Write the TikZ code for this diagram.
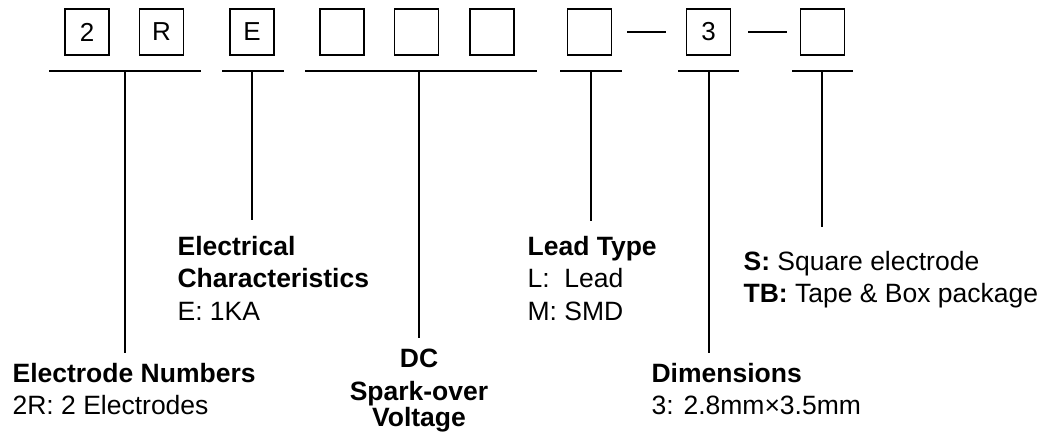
\documentclass[tikz,border=0pt]{standalone}
\usepackage{fontspec}
\setmainfont{Liberation Sans}
\begin{document}
\begin{tikzpicture}[x=1pt,y=-1pt,line width=1.2pt,
  digit/.style={draw,minimum width=44pt,minimum height=46pt,inner sep=0pt,font=\fontsize{26}{30}\selectfont},
  lbl/.style={inner sep=0pt,font=\fontsize{26.5}{30}\selectfont},
  hd/.style={lbl,font=\fontsize{26.5}{30}\selectfont\bfseries}]
\useasboundingbox (0,0) rectangle (1051,437);
% code boxes
\node[digit] (b1) at (87,32) {2};
\node[digit] (b2) at (161.5,32) {R};
\node[digit] (b3) at (252,32) {E};
\node[digit] (b4) at (342,32) {};
\node[digit] (b5) at (416.5,32) {};
\node[digit] (b6) at (492,32) {};
\node[digit] (b7) at (589.5,32) {};
\node[digit] (b8) at (708.5,32) {3};
\node[digit] (b9) at (822.5,32) {};
\draw ([xshift=15pt]b7.east) -- ([xshift=-20pt]b8.west);
\draw ([xshift=17pt]b8.east) -- ([xshift=-13pt]b9.west);
% bars
\draw (49,71) -- (201,71);
\draw (222,71) -- (284,71);
\draw (305,71) -- (537,71);
\draw (560,71) -- (622,71);
\draw (678,71) -- (739,71);
\draw (792,71) -- (853,71);
% stem ends
\coordinate (s1t) at (125,71); \coordinate (s1b) at (125,353);
\coordinate (s2t) at (252,71); \coordinate (s2b) at (252,220);
\coordinate (s3t) at (419,71); \coordinate (s3b) at (419,338);
\coordinate (s4t) at (591,71); \coordinate (s4b) at (591,221);
\coordinate (s5t) at (709,71); \coordinate (s5b) at (709,353);
\coordinate (s6t) at (822,71); \coordinate (s6b) at (822,227);
\draw (s1t) -- (s1b);
\draw (s2t) -- (s2b);
\draw (s3t) -- (s3b);
\draw (s4t) -- (s4b);
\draw (s5t) -- (s5b);
\draw (s6t) -- (s6b);
% labels
\node[hd,anchor=base west] (en1) at (12,382) {Electrode Numbers};
\node[lbl,anchor=base west] (en2) at (12,414) {2R: 2 Electrodes};
\node[hd,anchor=base west] (ec1) at (177,255) {Electrical};
\node[hd,anchor=base west] (ec2) at (177,287) {Characteristics};
\node[lbl,anchor=base west] (ec3) at (177,320) {E: 1KA};
\node[hd,anchor=base] (dc1) at (419,367) {DC};
\node[hd,anchor=base] (dc2) at (419,400) {Spark-over};
\node[hd,anchor=base] (dc3) at (419,426) {Voltage};
\node[hd,anchor=base west] (lt1) at (527,255) {Lead Type};
\node[lbl,anchor=base west] (lt2) at (527,287) {L:\ \ Lead};
\node[lbl,anchor=base west] (lt3) at (527,320) {M: SMD};
\node[lbl,anchor=base west] (sq1) at (743,270) {\textbf{S:} Square electrode};
\node[lbl,anchor=base west] (sq2) at (743,302) {\textbf{TB:} Tape \& Box package};
\node[hd,anchor=base west] (dm1) at (651,382) {Dimensions};
\node[lbl,anchor=base west] (dm2) at (651,414) {3: 2.8mm×3.5mm};
\end{tikzpicture}
\end{document}
